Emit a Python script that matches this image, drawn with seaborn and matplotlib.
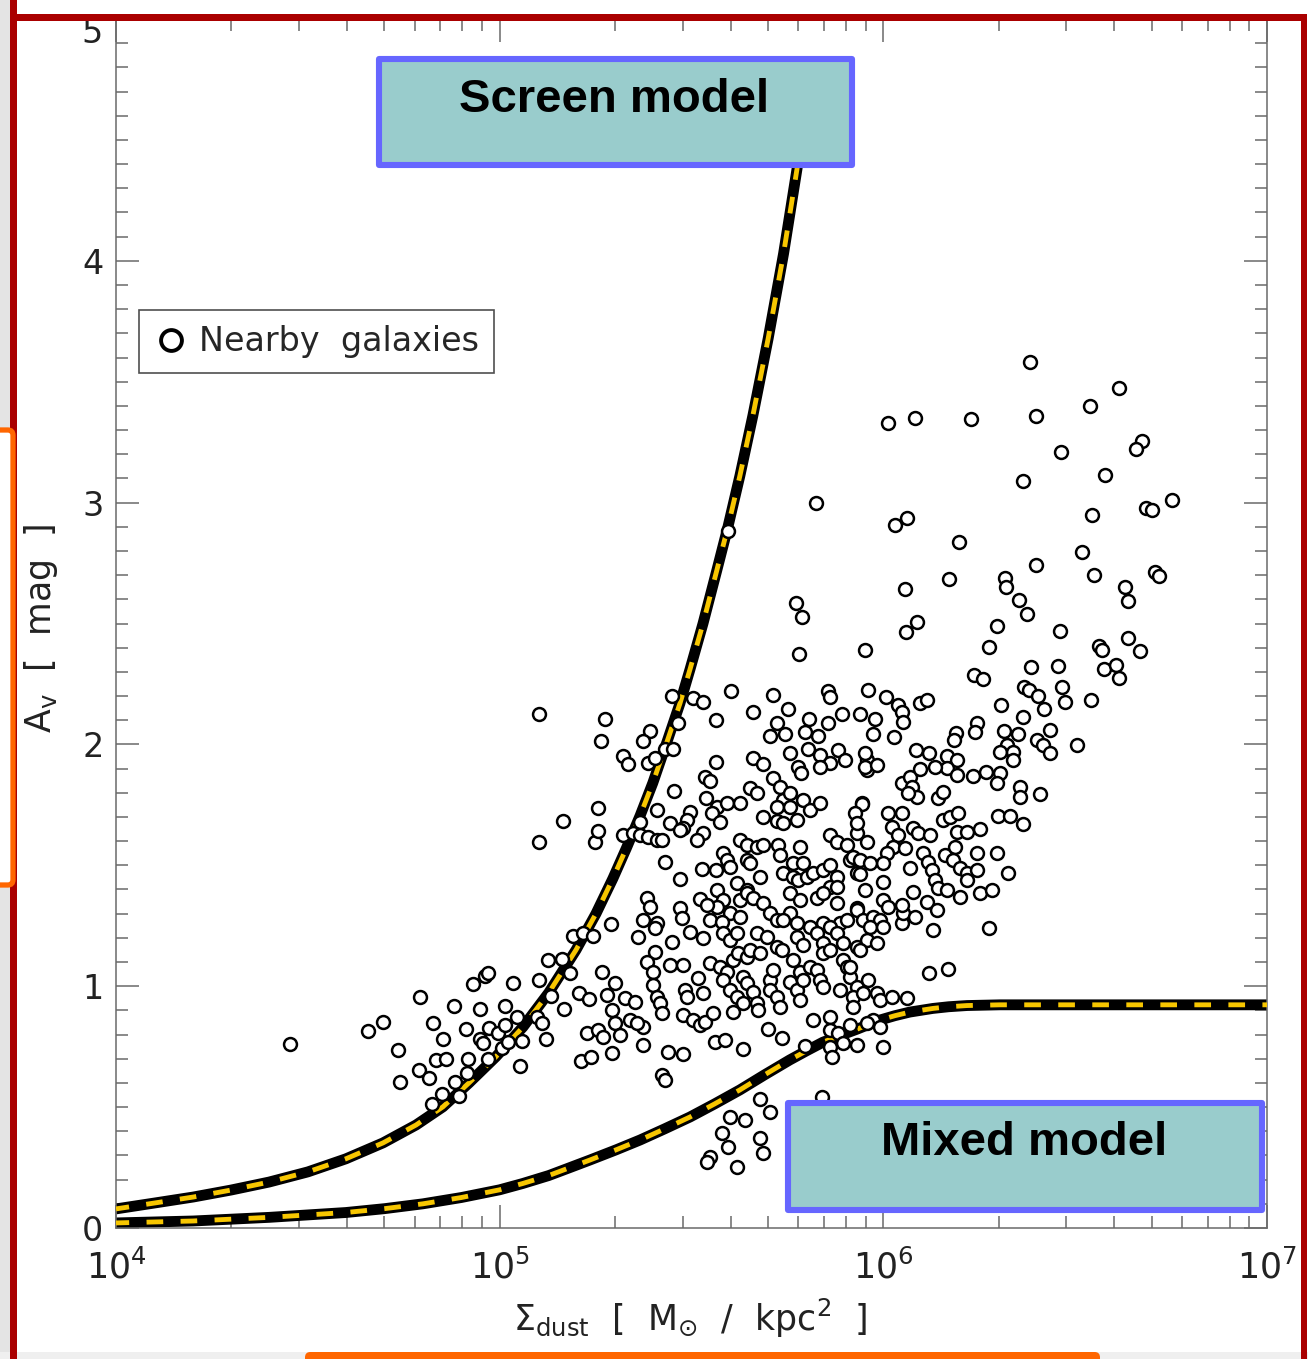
import numpy as np
import pandas as pd
import seaborn as sns
import matplotlib
matplotlib.use("Agg")
import matplotlib.pyplot as plt
from matplotlib.patches import Rectangle, FancyBboxPatch
from matplotlib.ticker import MultipleLocator, LogLocator, NullFormatter, FixedLocator, FixedFormatter
from matplotlib.lines import Line2D

# ---------------- data (log10 Sigma_dust [Msun/kpc^2], A_V [mag]) ----------------
gal_left = [
    (4.453, 0.762), (4.657, 0.815), (4.696, 0.853), (4.735, 0.737), (4.740, 0.604), (4.792, 0.956),
    (4.789, 0.654), (4.816, 0.621), (4.824, 0.513), (4.826, 0.849), (4.834, 0.695), (4.860, 0.700),
    (4.852, 0.782), (4.850, 0.555), (4.881, 0.919), (4.883, 0.604), (4.894, 0.546), (4.912, 0.824),
    (4.915, 0.642), (4.917, 0.700), (4.930, 1.010), (4.949, 0.906), (4.949, 0.782), (4.956, 0.766),
    (4.962, 1.043), (4.969, 1.055), (4.969, 0.700), (4.972, 0.828), (4.995, 0.807), (5.006, 0.745),
    (5.014, 0.919), (5.014, 0.840), (5.022, 0.770), (5.035, 1.014), (5.045, 0.873), (5.053, 0.671),
    (5.058, 0.774), (5.097, 0.873), (5.102, 1.026), (5.102, 1.598), (5.102, 2.127), (5.110, 0.849),
    (5.121, 0.782), (5.126, 1.109), (5.134, 0.960), (5.162, 1.113), (5.165, 1.685), (5.167, 0.906),
    (5.183, 1.055), (5.191, 1.209), (5.207, 0.973), (5.212, 0.691), (5.217, 1.221), (5.233, 0.948),
    (5.228, 0.807), (5.238, 0.708), (5.243, 1.209), (5.256, 0.820), (5.256, 1.738), (5.248, 1.598),
    (5.256, 1.643), (5.264, 2.016), (5.274, 2.107),
]

gal_upper = [
    (5.595, 2.881), (5.824, 2.997), (5.772, 2.583), (5.788, 2.525), (5.780, 2.372), (5.952, 2.392),
    (5.449, 2.202), (5.504, 2.190), (5.530, 2.177), (5.603, 2.219), (5.712, 2.206), (5.856, 2.219),
    (5.861, 2.194), (5.960, 2.227), (6.007, 2.194), (5.660, 2.136), (5.751, 2.148), (5.564, 2.099),
    (5.392, 2.057), (5.373, 2.016), (5.465, 2.090), (5.806, 2.103), (5.856, 2.090), (5.892, 2.127),
    (5.939, 2.127), (5.704, 2.036), (5.723, 2.090), (5.743, 2.045), (5.796, 2.053), (5.829, 2.036),
    (5.803, 1.983), (5.431, 1.983), (5.452, 1.983), (5.321, 1.950), (5.334, 1.921), (5.386, 1.925),
    (5.405, 1.945), (5.564, 1.929), (5.660, 1.945), (5.686, 1.921), (5.756, 1.966), (5.777, 1.908),
    (5.785, 1.883), (5.835, 1.958), (5.861, 1.925), (5.835, 1.908), (5.882, 1.978), (5.900, 1.937),
    (5.957, 1.937), (5.957, 1.896), (5.535, 1.867), (5.548, 1.850), (5.454, 1.809), (5.538, 1.780),
    (5.652, 1.821), (5.670, 1.800), (5.712, 1.863), (5.730, 1.825), (5.738, 1.772), (5.756, 1.800),
    (5.723, 1.743), (5.756, 1.743), (5.790, 1.772), (5.809, 1.730), (5.835, 1.759), (5.410, 1.730),
    (5.566, 1.743), (5.592, 1.759), (5.626, 1.759), (5.553, 1.718), (5.574, 1.680), (5.496, 1.722),
    (5.488, 1.689), (5.478, 1.656), (5.686, 1.701), (5.723, 1.685), (5.738, 1.676), (5.775, 1.689),
    (5.366, 1.680), (5.444, 1.676), (5.470, 1.647), (5.321, 1.627), (5.347, 1.635), (5.366, 1.627),
    (5.386, 1.618), (5.410, 1.606), (5.423, 1.606), (5.530, 1.635), (5.514, 1.606), (5.626, 1.606),
    (5.644, 1.585), (5.670, 1.577), (5.686, 1.585), (5.725, 1.585), (5.730, 1.544), (5.783, 1.577),
    (5.861, 1.627), (5.879, 1.598), (5.905, 1.585), (5.931, 1.635), (5.944, 1.759),
]

gal_center = [
    (5.431, 1.515), (5.582, 1.552), (5.592, 1.523), (5.600, 1.494), (5.527, 1.486), (5.564, 1.482),
    (5.470, 1.445), (5.678, 1.453), (5.644, 1.523), (5.652, 1.511), (5.738, 1.469), (5.764, 1.511),
    (5.790, 1.511), (5.764, 1.453), (5.777, 1.440), (5.801, 1.453), (5.816, 1.469), (5.842, 1.482),
    (5.861, 1.502), (5.879, 1.453), (5.861, 1.411), (5.879, 1.411), (5.913, 1.523), (5.921, 1.536),
    (5.939, 1.523), (5.931, 1.469), (5.618, 1.428), (5.644, 1.399), (5.626, 1.358), (5.644, 1.387),
    (5.566, 1.399), (5.582, 1.358), (5.566, 1.329), (5.522, 1.362), (5.540, 1.337), (5.660, 1.366),
    (5.384, 1.366), (5.392, 1.329), (5.470, 1.325), (5.475, 1.283), (5.756, 1.387), (5.783, 1.358),
    (5.827, 1.366), (5.842, 1.387), (5.879, 1.345), (5.931, 1.325), (5.686, 1.345), (5.704, 1.304),
    (5.600, 1.304), (5.626, 1.287), (5.723, 1.275), (5.756, 1.304), (5.775, 1.262), (5.842, 1.262),
    (5.887, 1.262), (5.290, 1.258), (5.373, 1.275), (5.410, 1.262), (5.548, 1.275), (5.405, 1.242),
    (5.360, 1.204), (5.496, 1.225), (5.449, 1.184), (5.530, 1.200), (5.580, 1.267), (5.582, 1.221),
    (5.600, 1.192), (5.618, 1.221), (5.670, 1.221), (5.738, 1.275), (5.697, 1.204), (5.723, 1.163),
    (5.736, 1.151), (5.775, 1.204), (5.790, 1.171), (5.764, 1.109), (5.809, 1.246), (5.827, 1.221),
    (5.842, 1.180), (5.861, 1.246), (5.879, 1.221), (5.895, 1.180), (5.905, 1.275), (5.931, 1.316),
    (5.947, 1.275), (5.973, 1.287), (5.991, 1.275), (5.931, 1.163), (5.957, 1.192), (5.983, 1.180),
    (6.048, 1.262), (6.051, 1.304), (5.405, 1.142), (5.384, 1.101), (5.399, 1.060), (5.444, 1.089),
    (5.478, 1.089), (5.266, 1.060), (5.300, 1.014), (5.280, 0.964), (5.293, 0.902), (5.326, 0.952),
    (5.352, 0.935), (5.399, 1.006), (5.410, 0.956), (5.418, 0.931), (5.423, 0.890), (5.483, 0.985),
    (5.488, 0.956), (5.478, 0.882), (5.504, 0.861), (5.522, 0.840), (5.535, 0.853), (5.556, 0.890),
    (5.517, 1.035), (5.530, 0.973), (5.548, 1.097), (5.574, 1.080), (5.592, 1.060), (5.582, 1.026),
    (5.600, 0.985), (5.618, 0.956), (5.634, 0.931), (5.608, 1.109), (5.621, 1.138), (5.644, 1.122),
    (5.652, 1.151), (5.678, 1.138), (5.634, 1.039), (5.644, 1.014), (5.660, 0.977), (5.670, 0.931),
    (5.673, 0.902), (5.608, 0.894), (5.704, 1.026), (5.704, 0.985), (5.723, 0.956), (5.730, 0.915),
    (5.756, 1.018), (5.775, 0.985), (5.783, 0.944), (5.712, 1.068), (5.783, 1.060), (5.790, 1.026),
    (5.809, 1.080), (5.827, 1.068), (5.835, 1.026), (5.842, 0.998), (5.842, 1.138), (5.861, 1.151),
    (5.895, 1.109), (5.905, 1.080), (5.913, 1.039), (5.931, 0.998), (5.921, 0.956), (5.921, 0.915),
    (5.947, 0.973), (5.887, 0.985), (5.960, 1.026), (5.983, 0.973), (5.991, 0.944), (6.022, 0.956),
    (5.973, 0.861), (5.991, 0.832), (5.999, 0.749), (6.061, 0.952),
]

gal_lower = [
    (5.373, 0.832), (5.339, 0.861), (5.358, 0.849), (5.300, 0.849), (5.269, 0.791), (5.313, 0.799),
    (5.293, 0.724), (5.373, 0.757), (5.439, 0.728), (5.478, 0.720), (5.423, 0.633), (5.431, 0.613),
    (5.561, 0.770), (5.587, 0.778), (5.634, 0.741), (5.699, 0.824), (5.736, 0.786), (5.796, 0.753),
    (5.816, 0.861), (5.861, 0.873), (5.861, 0.820), (5.882, 0.807), (5.913, 0.840), (5.957, 0.849),
    (5.861, 0.749), (5.866, 0.708), (5.895, 0.766), (5.931, 0.757),
    (5.678, 0.534), (5.704, 0.480), (5.600, 0.459), (5.639, 0.447), (5.579, 0.393), (5.595, 0.335),
    (5.678, 0.373), (5.686, 0.310), (5.548, 0.294), (5.540, 0.273), (5.618, 0.252), (5.840, 0.542),
]

gal_right = [
    (6.038, 2.165), (6.048, 2.132), (6.051, 2.094), (6.095, 2.173), (6.113, 2.185), (5.978, 2.107),
    (5.973, 2.045), (6.027, 2.032), (6.085, 1.978), (6.119, 1.966), (5.952, 1.966), (5.952, 1.908),
    (5.983, 1.916), (6.165, 1.950), (6.192, 1.937), (6.165, 1.904), (6.192, 1.875), (6.134, 1.908),
    (6.048, 1.842), (6.069, 1.867), (6.095, 1.900), (6.074, 1.825), (6.087, 1.784), (6.064, 1.800),
    (6.142, 1.780), (6.155, 1.805), (6.189, 2.049), (6.184, 2.020), (6.244, 2.090), (6.239, 2.053),
    (6.234, 1.871), (6.267, 1.887), (6.307, 2.161), (6.364, 2.115), (6.314, 2.057), (6.351, 2.045),
    (6.322, 1.999), (6.304, 1.970), (6.338, 1.970), (6.338, 1.937), (6.304, 1.883), (6.296, 1.842),
    (6.356, 1.825), (6.356, 1.784), (6.408, 1.796), (6.400, 2.020), (6.416, 1.999), (6.434, 1.966),
    (6.434, 2.061), (6.505, 1.999), (5.944, 1.755), (5.926, 1.718), (5.931, 1.676), (5.957, 1.598),
    (6.012, 1.718), (6.048, 1.718), (6.022, 1.660), (6.038, 1.627), (6.077, 1.656), (6.090, 1.635),
    (6.121, 1.627), (6.155, 1.689), (6.173, 1.701), (6.194, 1.718), (6.299, 1.705), (6.330, 1.705),
    (6.364, 1.672), (6.192, 1.639), (6.218, 1.639), (6.252, 1.651), (6.025, 1.577), (6.009, 1.552),
    (5.999, 1.511), (5.965, 1.511), (6.056, 1.573), (5.939, 1.465), (6.069, 1.490), (6.103, 1.552),
    (6.116, 1.515), (6.127, 1.482), (6.134, 1.440), (6.142, 1.407), (6.165, 1.399), (6.160, 1.544),
    (6.187, 1.577), (6.181, 1.523), (6.200, 1.490), (6.218, 1.469), (6.244, 1.482), (6.244, 1.552),
    (6.296, 1.552), (6.325, 1.469), (6.218, 1.440), (6.252, 1.387), (6.283, 1.399), (6.200, 1.370),
    (5.999, 1.432), (5.952, 1.399), (6.077, 1.391), (6.114, 1.349), (6.140, 1.316), (5.999, 1.358),
    (6.012, 1.329), (6.048, 1.337), (6.082, 1.287), (5.965, 1.246), (5.999, 1.246), (5.939, 1.151),
    (6.129, 1.233), (6.275, 1.242), (6.119, 1.055), (6.168, 1.072), (5.913, 1.080),
]

gal_top = [
    (6.382, 3.580), (6.614, 3.473), (6.538, 3.398), (6.398, 3.357), (6.012, 3.328), (6.082, 3.349),
    (6.228, 3.344), (6.463, 3.208), (6.674, 3.253), (6.658, 3.220), (6.578, 3.113), (6.364, 3.088),
    (6.752, 3.009), (6.684, 2.976), (6.700, 2.968), (6.544, 2.947), (6.061, 2.935), (6.030, 2.906),
    (6.197, 2.835), (6.518, 2.794), (6.398, 2.744), (6.171, 2.686), (6.549, 2.699), (6.708, 2.715),
    (6.718, 2.695), (6.317, 2.690), (6.319, 2.649), (6.056, 2.641), (6.630, 2.653), (6.638, 2.591),
    (6.353, 2.599), (6.374, 2.541), (6.088, 2.508), (6.059, 2.463), (6.296, 2.488), (6.460, 2.467),
    (6.275, 2.401), (6.562, 2.409), (6.570, 2.392), (6.638, 2.438), (6.669, 2.388), (6.385, 2.322),
    (6.455, 2.326), (6.575, 2.310), (6.606, 2.330), (6.614, 2.276), (6.236, 2.285), (6.260, 2.272),
    (6.465, 2.239), (6.366, 2.239), (6.379, 2.223), (6.403, 2.202), (6.473, 2.177), (6.541, 2.185),
    (6.419, 2.148),
]

# model curves
screen_log_sigma = [4.000, 4.099, 4.201, 4.300, 4.399, 4.500, 4.599, 4.696, 4.782, 4.852, 4.920,
                    4.990, 5.061, 5.128, 5.199, 5.251, 5.295, 5.330, 5.366, 5.399, 5.436, 5.470,
                    5.496, 5.530, 5.566, 5.595, 5.626, 5.660, 5.700, 5.740, 5.775, 5.800]
screen_av = [0.079, 0.103, 0.128, 0.157, 0.190, 0.232, 0.286, 0.352, 0.426, 0.501, 0.600,
             0.708, 0.832, 0.973, 1.150, 1.300, 1.445, 1.570, 1.705, 1.840, 2.010, 2.170,
             2.310, 2.500, 2.720, 2.900, 3.110, 3.360, 3.680, 4.030, 4.380, 4.650]

mixed_log_sigma = [4.000, 4.201, 4.399, 4.599, 4.700, 4.800, 4.900, 5.000, 5.060, 5.128, 5.180,
                   5.235, 5.303, 5.366, 5.430, 5.496, 5.560, 5.626, 5.690, 5.756, 5.800, 5.842,
                   5.890, 5.931, 5.991, 6.030, 6.069, 6.129, 6.170, 6.218, 6.304, 6.500, 7.000]
mixed_av = [0.021, 0.029, 0.044, 0.064, 0.080, 0.100, 0.126, 0.158, 0.184, 0.217, 0.248,
            0.281, 0.323, 0.364, 0.410, 0.459, 0.513, 0.571, 0.633, 0.695, 0.733, 0.768,
            0.798, 0.822, 0.860, 0.878, 0.893, 0.908, 0.915, 0.920, 0.923, 0.923, 0.923]

x_ticks = [1e4, 1e5, 1e6, 1e7]
x_tick_labels = [r"$10^{4}$", r"$10^{5}$", r"$10^{6}$", r"$10^{7}$"]
y_ticks = [0, 1, 2, 3, 4, 5]

legend_label = "Nearby  galaxies"
screen_label = "Screen model"
mixed_label = "Mixed model"

# ---------------- figure ----------------
sns.set_style("ticks")
plt.rcParams["font.family"] = ["DejaVu Sans"]
plt.rcParams["mathtext.fontset"] = "dejavusans"
plt.rcParams["mathtext.default"] = "regular"
plt.rcParams["lines.scale_dashes"] = False

W, H = 1308, 1359
fig = plt.figure(figsize=(W / 100, H / 100), dpi=100)
fig.patch.set_facecolor("white")
ax = fig.add_axes([116 / W, 1 - 1228 / H, 1151 / W, 1209 / H])
ax.set_facecolor("white")
ax.set_xscale("log")

gal = pd.DataFrame(gal_left + gal_upper + gal_center + gal_lower + gal_right + gal_top,
                   columns=["log_sigma", "av"])
gal["sigma"] = 10 ** gal["log_sigma"]
screen = pd.DataFrame({"sigma": 10 ** np.array(screen_log_sigma), "av": screen_av})
mixed = pd.DataFrame({"sigma": 10 ** np.array(mixed_log_sigma), "av": mixed_av})

yellow = "#F7C600"
for df in (screen, mixed):
    sns.lineplot(data=df, x="sigma", y="av", sort=False, estimator=None, color="black",
                 lw=7.8, ax=ax, zorder=2, solid_capstyle="butt", solid_joinstyle="round")
    sns.lineplot(data=df, x="sigma", y="av", sort=False, estimator=None, color=yellow,
                 lw=3.5, ax=ax, zorder=3)
    ln = ax.lines[-1]
    ln.set_linestyle((2.5, (12.0, 12.5)))
    ln.set_dash_capstyle("butt")

sns.scatterplot(data=gal, x="sigma", y="av", marker="o", s=86, facecolor="white",
                edgecolor="black", linewidth=1.8, ax=ax, zorder=4, legend=False)

ax.set_xlim(1e4, 1e7)
ax.set_ylim(0, 5)

# ticks
ax.xaxis.set_major_locator(FixedLocator(x_ticks))
ax.xaxis.set_major_formatter(FixedFormatter(x_tick_labels))
ax.xaxis.set_minor_locator(LogLocator(base=10, subs=np.arange(2, 10), numticks=20))
ax.xaxis.set_minor_formatter(NullFormatter())
ax.yaxis.set_major_locator(FixedLocator(y_ticks))
ax.yaxis.set_major_formatter(FixedFormatter(["0", "1", "2", "3", "4", ""]))
ax.yaxis.set_minor_locator(MultipleLocator(0.1))
tick_col = "#6a6a6a"
ax.tick_params(which="both", direction="in", top=True, right=True, color=tick_col, width=1.1)
ax.tick_params(which="major", length=16.5)
ax.tick_params(which="minor", length=8.5)
ax.tick_params(axis="x", which="major", labelsize=25, pad=15, labelcolor="#222222")
ax.tick_params(axis="y", which="major", labelsize=24, pad=9, labelcolor="#222222")
for sp in ax.spines.values():
    sp.set_color(tick_col)
    sp.set_linewidth(1.1)
# the "5" label sits a bit lower in the original
ax.text(-0.0115, 4.94, "5", transform=ax.get_yaxis_transform(), ha="right", va="center",
        fontsize=24, color="#222222", clip_on=False)

ax.set_xlabel(r"$\Sigma_{\rm dust}$  [  M$_{\odot}$  /  kpc$^{2}$  ]", fontsize=25, color="#222222")
ax.set_ylabel(r"A$_{\rm v}$  [  mag  ]", fontsize=25, color="#222222")
ax.xaxis.set_label_coords(0.4987, -0.057)
ax.yaxis.set_label_coords(-0.049, 0.496)

# legend
handle = Line2D([], [], marker="o", ls="none", markersize=15, markerfacecolor="white",
                markeredgecolor="black", markeredgewidth=2.8)
leg = ax.legend([handle], [legend_label], loc="upper left", bbox_to_anchor=(0.02, 0.759),
                fontsize=24, frameon=True, fancybox=False, borderaxespad=0, borderpad=0.45,
                handletextpad=0.35, handlelength=1.0)
leg.get_frame().set_edgecolor("#222222")
leg.get_frame().set_linewidth(1.2)
leg.set_zorder(6)


# ---------------- decorations around the chart ----------------
def fig_rect(px0, py0, px1, py1, rounded=False, **kw):
    if rounded:
        r = FancyBboxPatch((px0 / W, 1 - py1 / H), (px1 - px0) / W, (py1 - py0) / H,
                           boxstyle="round,pad=0,rounding_size=0.004",
                           transform=fig.transFigure, **kw)
    else:
        r = Rectangle((px0 / W, 1 - py1 / H), (px1 - px0) / W, (py1 - py0) / H,
                      transform=fig.transFigure, **kw)
    fig.add_artist(r)
    return r


fig_rect(0, 0, 11, H, fc="#e4e4e4", ec="none", zorder=20)
fig_rect(0, 1352, W, H, fc="#efefef", ec="none", zorder=20)
fig_rect(10, 0, 17, H, fc="#aa0000", ec="none", zorder=21)
fig_rect(10, 14, 1307, 21, fc="#aa0000", ec="none", zorder=21)
fig_rect(1301, 14, 1307, H, fc="#aa0000", ec="none", zorder=21)
fig_rect(-30, 430, 13, 885, rounded=True, fc="white", ec="#ff6600", lw=3.8, zorder=22)
fig_rect(305, 1352, 1100, H + 10, rounded=True, fc="#ff6600", ec="none", zorder=22)

box_kw = dict(fc="#99cccc", ec="#6666ff", lw=4.4, joinstyle="round", zorder=15)
fig_rect(379, 59, 852, 165, **box_kw)
fig_rect(788, 1103, 1262, 1210, **box_kw)
fig.text(614 / W, 1 - 100 / H, screen_label, ha="center", va="center", fontsize=34,
         fontweight="bold", family="Liberation Sans", color="black", zorder=16)
fig.text(1024 / W, 1 - 1143 / H, mixed_label, ha="center", va="center", fontsize=34,
         fontweight="bold", family="Liberation Sans", color="black", zorder=16)

fig.savefig("out.png", dpi=100, facecolor="white")
